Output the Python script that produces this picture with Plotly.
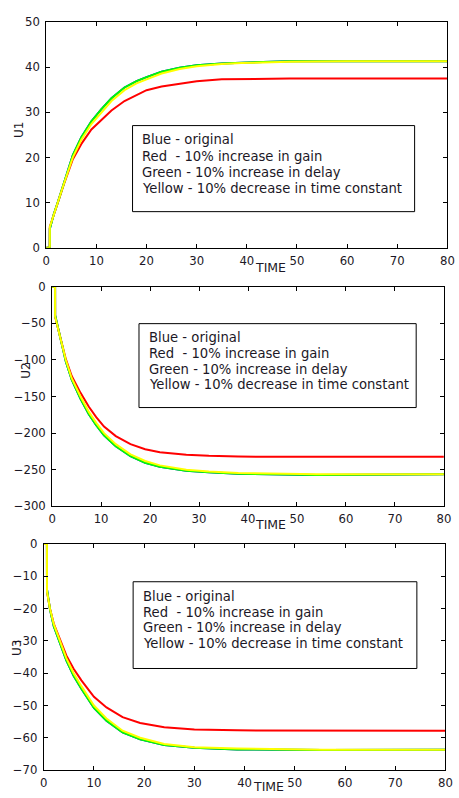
import plotly.graph_objects as go

W, H = 459, 798

# ---- time samples for each panel ----
t_u1 = [0, 0.7, 0.71, 1.5, 2.35, 3.5, 5.3, 7.0, 9.0, 11.0, 13.0, 15.6, 18.0, 20.0, 23.0, 26.6, 30, 35, 39, 48.5, 60, 80]
t_u2 = [0, 0.6, 0.61, 1.2, 2.0, 2.8, 4.0, 5.8, 7.5, 9.0, 10.6, 13, 16, 19, 22, 27.4, 32, 38, 54, 80]
t_u3 = [0, 0.64, 0.65, 1.25, 2.0, 3.2, 4.5, 5.95, 7.5, 10, 12.5, 15.7, 19.2, 24, 30, 38.5, 55.5, 80]

# ---- U1 responses ----
u1_blue = [0, 0, 4.2, 7.4, 10.2, 14.4, 20.5, 24.5, 28.0, 30.7, 33.1, 35.5, 36.9, 37.8, 39.0, 39.9, 40.4, 40.8, 41.0, 41.3, 41.3, 41.3]
u1_red = [0, 0, 4.6, 7.4, 10.0, 14.0, 19.6, 23.0, 26.2, 28.4, 30.4, 32.5, 33.9, 34.9, 35.7, 36.4, 36.9, 37.3, 37.4, 37.5, 37.5, 37.5]
u1_green = [0, 0, 4.2, 7.4, 10.2, 14.4, 20.5, 24.5, 28.0, 30.7, 33.1, 35.5, 36.9, 37.8, 39.0, 39.9, 40.4, 40.8, 41.0, 41.3, 41.3, 41.3]
u1_yellow = [0, 0, 4.6, 7.4, 10.0, 14.1, 20.0, 23.9, 27.4, 30.0, 32.5, 34.9, 36.4, 37.3, 38.6, 39.6, 40.2, 40.7, 40.9, 41.2, 41.3, 41.3]

# ---- U2 responses ----
u2_blue = [0, 0, -39, -57, -80, -102, -127, -153, -174, -189, -203, -218, -231.5, -240.5, -246, -251.5, -253.5, -255.5, -257, -256]
u2_red = [0, 0, -41, -57, -79, -99, -122, -145, -164, -178, -191, -204, -215, -222, -226, -229.5, -231, -232, -232.3, -232.3]
u2_green = [0, 0, -39, -57, -80, -102, -127, -153, -174, -189, -203, -218, -231.5, -240.5, -246, -251.5, -253.5, -255.5, -257, -256]
u2_yellow = [0, 0, -41, -57, -79, -100, -125, -150, -171, -186, -200, -215, -229, -238, -244, -250, -252.5, -254.5, -256, -256]

# ---- U3 responses ----
u3_blue = [0, 0, -14.0, -20.3, -25.4, -30.8, -36.0, -40.8, -44.8, -50.7, -54.7, -58.3, -60.5, -62.2, -63.1, -63.6, -63.8, -63.7]
u3_red = [0, 0, -14.7, -20.0, -24.6, -29.6, -34.5, -38.6, -42.2, -47.3, -50.6, -53.6, -55.4, -56.7, -57.4, -57.7, -57.8, -57.8]
u3_green = [0, 0, -14.0, -20.3, -25.4, -30.8, -36.0, -40.8, -44.8, -50.7, -54.7, -58.3, -60.5, -62.2, -63.1, -63.6, -63.8, -63.7]
u3_yellow = [0, 0, -14.7, -20.0, -24.8, -30.0, -35.3, -40.0, -44.0, -50.0, -54.0, -57.8, -60.0, -61.9, -62.9, -63.3, -63.7, -63.7]

# ---- axis setup ----
x_ticks = [0, 10, 20, 30, 40, 50, 60, 70, 80]
y_ticks_u1 = [0, 10, 20, 30, 40, 50]
y_ticks_u2 = [-300, -250, -200, -150, -100, -50, 0]
y_ticks_u3 = [-70, -60, -50, -40, -30, -20, -10, 0]
y_names = ["U1", "U2", "U3"]
note_lines = [
    "Blue - original",
    "Red\u00a0 - 10% increase in gain",
    "Green - 10% increase in delay",
    "Yellow - 10% decrease in time constant",
]

colors = {"blue": "#0000ff", "red": "#ff0000", "green": "#00ff00", "yellow": "#ffff00"}
TXT = "#1c1826"
FONT = "DejaVu Sans, sans-serif"


def px(x):
    return x / W


def py(y):
    return 1 - y / H


# panel boxes in pixels: left, right, top, bottom
panels = [
    dict(l=43.3, r=454.3, t=15.3, b=245.0, rng=[0, 50], ticks=y_ticks_u1,
         box=(131.7, 420.7, 120.7, 208.3), text_x=139.3, lines_y=[135, 151.7, 168.3, 184.3],
         ylab=(15.5, 125), time=(273, 265)),
    dict(l=49.3, r=450.7, t=284.7, b=508.3, rng=[-300, 0], ticks=y_ticks_u2,
         box=(138.3, 422.3, 322.3, 407.7), text_x=146.7, lines_y=[336.7, 352.3, 368.7, 384.3],
         ylab=(21.7, 370), time=(273, 527)),
    dict(l=40.7, r=452.3, t=546.7, b=776.7, rng=[-70, 0], ticks=y_ticks_u3,
         box=(132.3, 423.0, 585.0, 673.3), text_x=140.0, lines_y=[600, 616, 632, 648.3],
         ylab=(12.7, 652), time=(271, 793)),
]

series = [
    (t_u1, [u1_blue, u1_red, u1_green, u1_yellow]),
    (t_u2, [u2_blue, u2_red, u2_green, u2_yellow]),
    (t_u3, [u3_blue, u3_red, u3_green, u3_yellow]),
]

fig = go.Figure()
layout = dict(
    width=W, height=H, margin=dict(l=0, r=0, t=0, b=0),
    paper_bgcolor="white", plot_bgcolor="white", showlegend=False,
    font=dict(family=FONT, size=12, color=TXT),
)
shapes, annotations = [], []

for i, (p, (tt, ys)) in enumerate(zip(panels, series)):
    k = "" if i == 0 else str(i + 1)
    for name, yv in zip(["blue", "red", "green", "yellow"], ys):
        fig.add_trace(go.Scatter(
            x=tt, y=yv, mode="lines", name=name,
            line=dict(color=colors[name], width=2),
            xaxis="x" + k, yaxis="y" + k, hoverinfo="skip",
        ))
    common = dict(showline=True, linecolor="black", linewidth=1, mirror="ticks",
                  ticks="inside", ticklen=4, tickcolor="black", showgrid=False,
                  zeroline=False, tickfont=dict(family=FONT, size=11.7, color=TXT))
    layout["xaxis" + k] = dict(common, domain=[px(p["l"]), px(p["r"])], range=[0, 80],
                               tickvals=x_ticks, anchor="y" + k, ticklabelstandoff=2)
    layout["yaxis" + k] = dict(common, domain=[py(p["b"]), py(p["t"])], range=p["rng"],
                               tickvals=p["ticks"], anchor="x" + k, ticklabelstandoff=3)
    bl, br, bt, bb = p["box"]
    shapes.append(dict(type="rect", xref="paper", yref="paper",
                       x0=px(bl), x1=px(br), y0=py(bb), y1=py(bt),
                       line=dict(color="black", width=1), fillcolor="white", layer="above"))
    for line, ly in zip(note_lines, p["lines_y"]):
        annotations.append(dict(text=line, xref="paper", yref="paper", x=px(p["text_x"]),
                                y=py(ly), xanchor="left", yanchor="middle", showarrow=False,
                                font=dict(family=FONT, size=13.2, color=TXT)))
    annotations.append(dict(text=y_names[i], xref="paper", yref="paper", x=px(p["ylab"][0]),
                            y=py(p["ylab"][1]), textangle=-90, xanchor="center",
                            yanchor="middle", showarrow=False,
                            font=dict(family=FONT, size=12, color=TXT)))
    annotations.append(dict(text="TIME", xref="paper", yref="paper", x=px(p["time"][0]),
                            y=py(p["time"][1]), xanchor="center", yanchor="middle",
                            showarrow=False, font=dict(family=FONT, size=12.5, color=TXT)))

layout["shapes"] = shapes
layout["annotations"] = annotations
fig.update_layout(**layout)
fig.write_html("out.html")
